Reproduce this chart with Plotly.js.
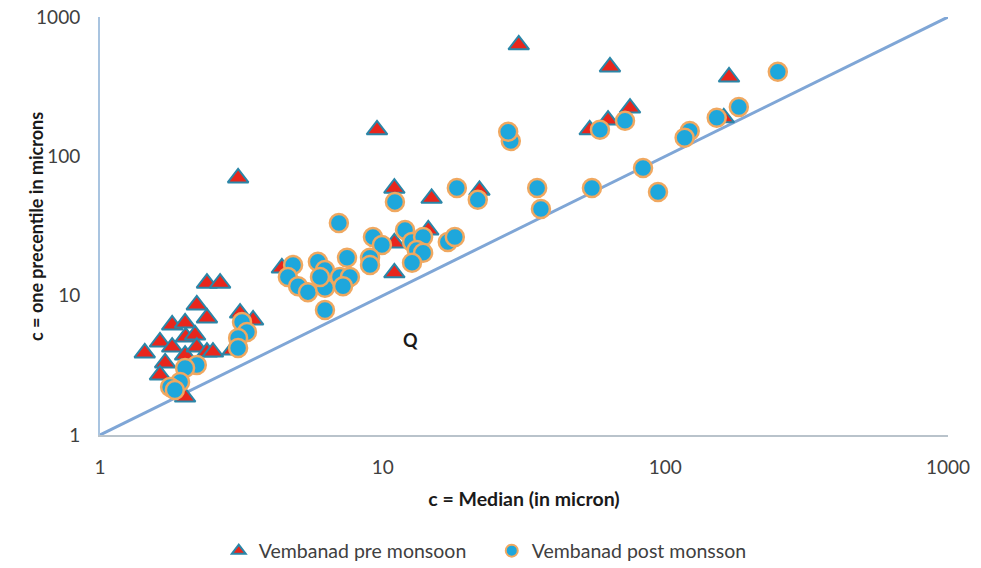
<!DOCTYPE html>
<html>
<head>
<meta charset="utf-8">
<script src="https://cdn.plot.ly/plotly-3.0.1.min.js"></script>
<style>html,body{margin:0;padding:0;background:#fff;}#chart{width:981px;height:568px;}</style>
</head>
<body>
<div id="chart"></div>
<script>
// Vembanad pre monsoon (median, one percentile)
const preX = [30.3, 63.7, 168, 9.55, 3.08, 75, 62.7, 54, 161, 11, 14.9, 22, 11, 11, 14.5, 4.4,
  2.39, 2.66, 2.20, 2.39, 1.80, 2.0, 2.01, 1.63, 2.17, 1.80, 1.44, 2.0, 2.20, 2.39, 2.51, 1.70, 1.63, 2.0, 3.48, 3.13, 2.95];
const preY = [631, 438, 371, 155, 70, 222, 182, 155, 189, 59, 50, 57, 23.9, 14.6, 29.6, 15.8,
  12.3, 12.3, 8.58, 6.92, 6.16, 6.37, 5.05, 4.65, 5.22, 4.28, 3.88, 3.75, 4.28, 3.94, 3.94, 3.29, 2.70, 1.87, 6.69, 7.5, 4.08];

// Vembanad post monsson
const postX = [250, 182, 152, 122, 117, 72, 58.7, 83.4, 94.2, 55, 36.3, 35.2, 28.4, 27.8, 18.3, 21.7,
  11.05, 7.0, 9.24, 9.94, 12.0, 12.7, 13.9, 13.2, 13.9, 12.7, 17.0, 18.0, 9.02, 9.02, 7.48, 5.9, 6.25,
  4.82, 4.62, 5.02, 5.44, 6.25, 7.06, 7.66, 7.24, 6.25, 6.0,
  3.18, 3.31, 3.08, 3.08, 2.20, 2.0, 1.92, 1.77, 1.84];
const postY = [404, 226, 189, 152, 136, 180, 155, 82.6, 55.5, 59.3, 41.9, 59.3, 129, 150, 59.3, 48.7,
  47.1, 33.2, 26.4, 23.1, 29.6, 24.3, 26.4, 21.3, 20.3, 17.2, 24.3, 26.4, 18.7, 16.6, 18.7, 17.5, 15.3,
  16.6, 13.6, 11.7, 10.6, 11.4, 13.6, 13.6, 11.7, 7.9, 13.6,
  6.48, 5.49, 4.97, 4.21, 3.18, 3.03, 2.40, 2.21, 2.1];

// 1:1 reference line
const lineX = [1, 1000];
const lineY = [1, 1000];

const tickVals = [1, 10, 100, 1000];
const tickText = ['1', '10', '100', '1000'];

const xTitle = 'c = Median (in micron)';
const yTitle = 'c = one precentile in microns';
const label = 'Q';

const font = 'Lato, "Open Sans", "Liberation Sans", sans-serif';

const traces = [
  {x: lineX, y: lineY, mode: 'lines', type: 'scatter', showlegend: false, hoverinfo: 'skip',
   line: {color: '#7fa6d6', width: 3}},
  {x: preX, y: preY, mode: 'markers', type: 'scatter', name: 'Vembanad pre monsoon',
   marker: {symbol: 'triangle-up', size: 18, color: '#e8261c', line: {color: '#2a86a8', width: 2}}},
  {x: postX, y: postY, mode: 'markers', type: 'scatter', name: 'Vembanad post monsson',
   marker: {symbol: 'circle', size: 18, color: '#1ea7dc', line: {color: '#f0a860', width: 2.5}}}
];

const layout = {
  width: 981, height: 568,
  margin: {l: 100, r: 33, t: 17, b: 133},
  paper_bgcolor: '#ffffff', plot_bgcolor: '#ffffff',
  font: {family: font, color: '#404040', size: 19},
  xaxis: {type: 'log', range: [0, 3], tickvals: tickVals, ticktext: tickText, automargin: false,
    showgrid: false, zeroline: false, showline: true, linecolor: '#b9c3cb', linewidth: 2,
    ticks: 'outside', ticklen: 14, tickcolor: 'rgba(0,0,0,0)',
    tickfont: {size: 19, color: '#404040'},
    title: {text: '<b>' + xTitle + '</b>', font: {size: 19.5, color: '#1a1a1a'}, standoff: 16}},
  yaxis: {type: 'log', range: [0, 3], tickvals: tickVals, ticktext: tickText, automargin: false,
    showgrid: false, zeroline: false, showline: true, linecolor: '#a9c4e0', linewidth: 2,
    ticks: 'outside', ticklen: 14, tickcolor: 'rgba(0,0,0,0)',
    tickfont: {size: 19, color: '#404040'}},
  legend: {orientation: 'h', xref: 'container', yref: 'container', x: 0.223, xanchor: 'left',
    y: 0.03, yanchor: 'middle', itemsizing: 'constant', entrywidth: 228, entrywidthmode: 'pixels',
    font: {size: 19.5, color: '#404040'}, itemwidth: 30, tracegroupgap: 0},
  annotations: [
    {x: Math.log10(12.5), y: Math.log10(4.8), xref: 'x', yref: 'y', text: '<b>' + label + '</b>',
     showarrow: false, font: {size: 18, color: '#1a1a1a'}},
    {x: -0.0755, y: 0.5, xref: 'paper', yref: 'paper', xanchor: 'center', yanchor: 'middle',
     textangle: -90, text: '<b>' + yTitle + '</b>', showarrow: false,
     font: {size: 18, color: '#1a1a1a'}}
  ],
  showlegend: true
};

Plotly.newPlot('chart', traces, layout, {displayModeBar: false, staticPlot: true});
</script>
</body>
</html>
